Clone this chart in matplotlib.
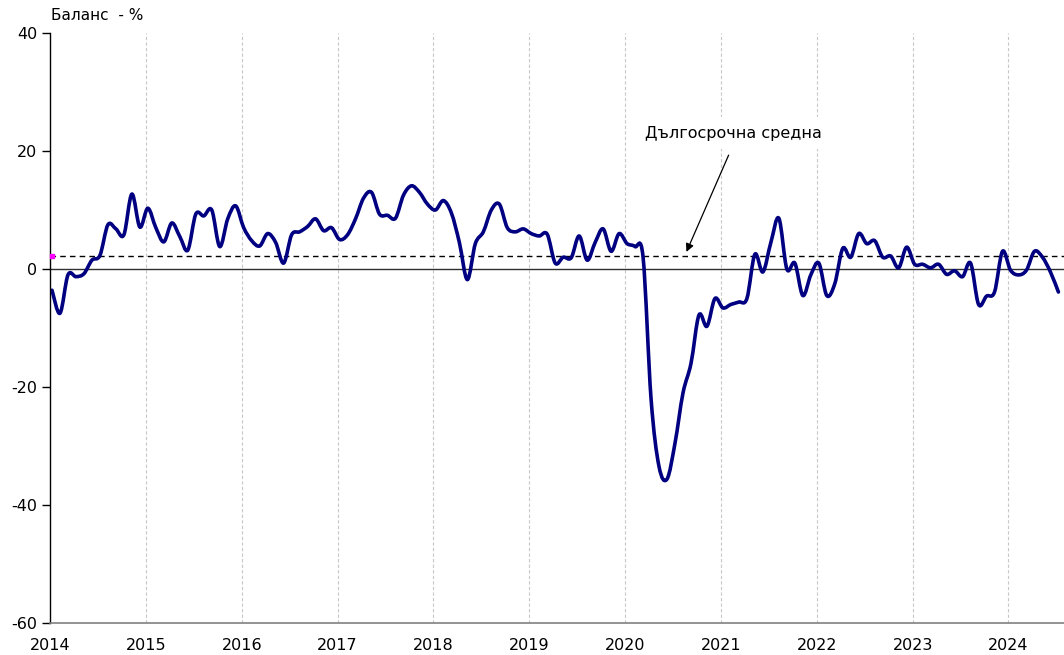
import matplotlib.pyplot as plt
import numpy as np
from matplotlib.path import Path
from matplotlib.patches import PathPatch

# monthly balance, Jan 2014 - Jul 2024
balance = [
    -3.6, -7.5, -1.0, -1.3, -0.8, 1.5, 2.3, 7.5, 6.8, 5.8, 12.7, 7.1,
    10.3, 7.0, 4.6, 7.8, 5.5, 3.2, 9.3, 9.0, 10.0, 3.8, 8.5, 10.7,
    7.0, 4.8, 3.9, 6.0, 4.5, 1.0, 5.8, 6.3, 7.2, 8.5, 6.5, 7.0,
    5.0, 5.8, 8.5, 12.0, 13.0, 9.3, 9.1, 8.6, 12.5, 14.1, 13.0, 11.0,
    10.0, 11.6, 9.5, 4.5, -1.8, 4.3, 6.3, 10.0, 11.0, 7.0, 6.3, 6.8,
    6.0, 5.6, 5.9, 1.0, 2.0, 1.9, 5.6, 1.5, 4.5, 6.8, 3.0, 6.0,
    4.3, 3.8, 2.0, -22.0, -33.5, -35.6, -29.5, -21.0, -16.0, -7.8, -9.7, -5.0,
    -6.6, -6.0, -5.6, -5.0, 2.5, -0.5, 4.5, 8.6, 0.0, 1.0, -4.5, -1.0,
    1.0, -4.5, -2.5, 3.5, 2.0, 6.0, 4.3, 4.8, 2.0, 2.2, 0.2, 3.7,
    0.8, 0.8, 0.2, 0.8, -0.9, -0.3, -1.3, 1.0, -6.0, -4.6, -3.9, 3.0,
    -0.2, -1.0, -0.2, 3.0, 2.0, -0.5, -3.9,
]
long_term_avg = 2.2
years = list(range(2014, 2025))
y_ticks = [40, 20, 0, -20, -40, -60]

months = np.arange(len(balance))
x = 2014 + (months + 0.25) / 12

plt.rcParams['font.family'] = ['DejaVu Sans']

fig = plt.figure(figsize=(10.64, 6.55), dpi=100)
ax = fig.add_axes([50 / 1064, 1 - 623 / 655, 1 - 50 / 1064, 590 / 655])

ax.set_xlim(2014, 2014 + 1014 / 95.85)
ax.set_ylim(-60, 40)

# year grid
for yr in years[1:]:
    ax.axvline(yr, color='#c8c8c8', lw=0.8, ls=(0, (3, 2)), zorder=0)

ax.axhline(0, color='#303030', lw=1.0, zorder=1)
ax.axhline(long_term_avg, color='black', lw=1.0, ls=(0, (4, 3)), zorder=1)
ax.plot(x[0], long_term_avg, 's', color='#ff00ff', ms=3.5, clip_on=False, zorder=3)

# smoothed line (Catmull-Rom style bezier through the monthly points)
pts = np.column_stack([x, balance])
verts = [pts[0]]
codes = [Path.MOVETO]
n = len(pts)
for i in range(n - 1):
    p0 = pts[max(i - 1, 0)]
    p1 = pts[i]
    p2 = pts[i + 1]
    p3 = pts[min(i + 2, n - 1)]
    verts += [p1 + (p2 - p0) / 6, p2 - (p3 - p1) / 6, p2]
    codes += [Path.CURVE4] * 3
ax.add_patch(PathPatch(Path(verts, codes), fill=False, edgecolor='#000080',
                       lw=2.6, capstyle='round', joinstyle='round', zorder=2))

# annotation
ax.annotate('', xy=(2020.64, 2.9), xytext=(2021.08, 19.3),
            arrowprops=dict(arrowstyle='-|>', color='black', lw=0.9,
                            mutation_scale=12, shrinkA=0, shrinkB=0))
ax.text(2020.21, 23.05, 'Дългосрочна средна', fontsize=11.5, ha='left', va='center',
        bbox=dict(facecolor='white', edgecolor='none', pad=6), zorder=4)

ax.set_xticks(years)
ax.set_xticklabels([str(y) for y in years])
ax.set_yticks(y_ticks)
ax.set_yticklabels([str(v) for v in y_ticks])
ax.tick_params(axis='x', length=0, pad=11, labelsize=11.5)
ax.tick_params(axis='y', length=6, width=1, pad=3, labelsize=11.5)

for s in ['top', 'right']:
    ax.spines[s].set_visible(False)
ax.spines['bottom'].set_color('#808080')
ax.spines['bottom'].set_linewidth(1.2)
ax.spines['left'].set_color('black')
ax.spines['left'].set_linewidth(1.0)

fig.text(51 / 1064, 1 - 16 / 655, 'Баланс  - %', fontsize=11, ha='left', va='center')

fig.savefig('out.png', dpi=100)
